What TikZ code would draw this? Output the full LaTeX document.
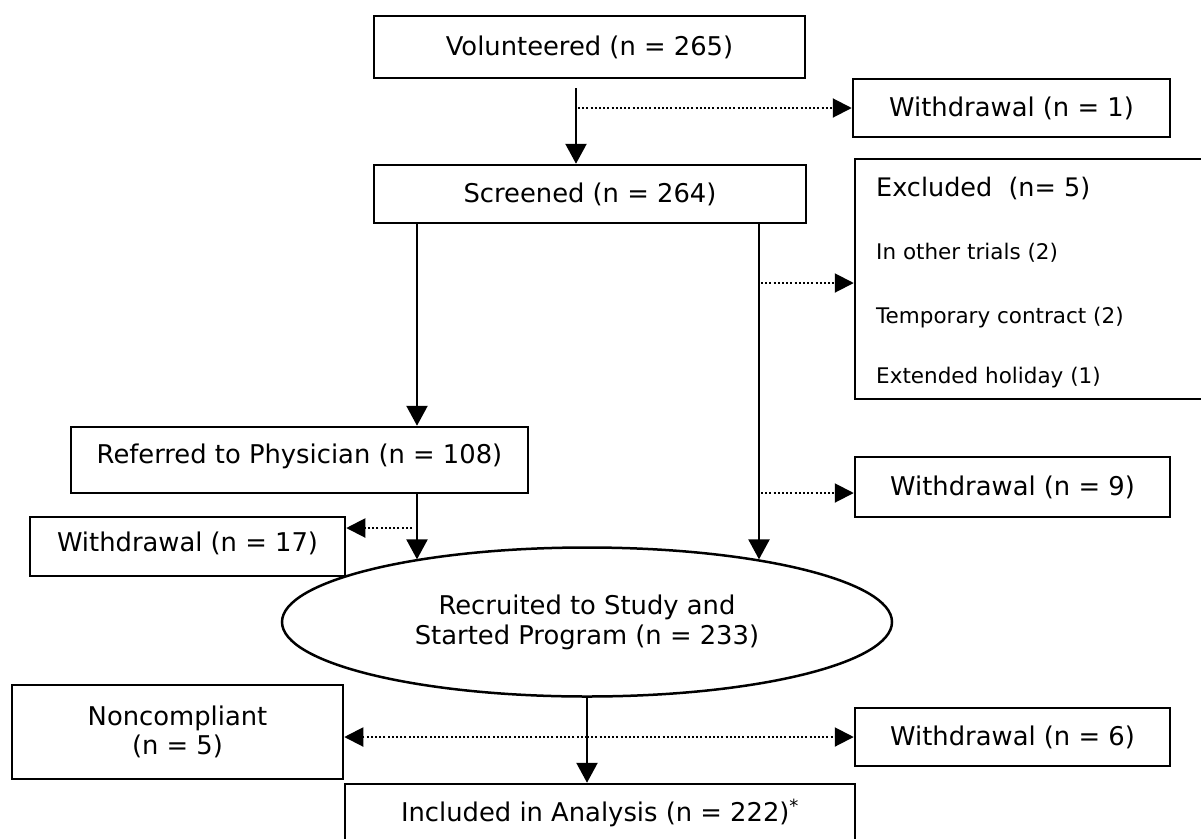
\documentclass[tikz,border=0pt]{standalone}
\usepackage{fontspec}
\setmainfont{DejaVu Sans}
\usetikzlibrary{arrows.meta,shapes.geometric,calc}
\tikzset{
  boxnode/.style={draw, line width=2.5pt, rectangle, inner sep=0pt, align=center,
    font=\fontsize{25.8}{29}\selectfont},
  arr/.style={line width=2.4pt, -{Triangle[length=20pt,width=21pt]}},
  dotarr/.style={line width=2pt, dash pattern=on 2pt off 2.2pt,
    -{Triangle[length=19pt,width=19pt]}},
  smalltext/.style={font=\fontsize{21.5}{25}\selectfont, anchor=base west, inner sep=0pt},
}
\begin{document}
\begin{tikzpicture}[x=1pt,y=-1pt]
\useasboundingbox (0,0) rectangle (1201,838);
\fill[white] (0,0) rectangle (1201,838);
\clip (0,0) rectangle (1201,838);

% boxes
\node[boxnode, minimum width=431pt, minimum height=62pt] (vol) at (589.5,47) {Volunteered (n = 265)};
\node[boxnode, minimum width=317pt, minimum height=58pt] (w1) at (1011.5,108) {Withdrawal (n = 1)};
\node[boxnode, minimum width=432pt, minimum height=58pt] (scr) at (590,194) {Screened (n = 264)};
\node[boxnode, minimum width=360pt, minimum height=240pt] (excl) at (1035,279) {};
\node[smalltext, font=\fontsize{25.5}{30}\selectfont] (exT) at (876,196) {Excluded\ \ (n= 5)};
\node[smalltext] (ex1) at (876,259) {In other trials (2)};
\node[smalltext] (ex2) at (876,323) {Temporary contract (2)};
\node[smalltext] (ex3) at (876,383) {Extended holiday (1)};
\node[boxnode, minimum width=457pt, minimum height=66pt, text height=20pt, text depth=14pt] (ref) at (299.5,460) {Referred to Physician (n = 108)};
\node[boxnode, minimum width=315pt, minimum height=60pt] (w9) at (1012.5,487) {Withdrawal (n = 9)};
\node[boxnode, minimum width=315pt, minimum height=59pt, text height=20pt, text depth=11pt] (w17) at (187.5,546.5) {Withdrawal (n = 17)};
\node[draw, ellipse, line width=2.5pt, minimum width=610pt, minimum height=149pt, inner sep=0pt,
  align=center, font=\fontsize{25.8}{30}\selectfont] (ell) at (587,622) {Recruited to Study and\\Started Program (n = 233)};
\node[boxnode, minimum width=331pt, minimum height=94pt] (nc) at (177.5,732) {Noncompliant\\(n = 5)};
\node[boxnode, minimum width=315pt, minimum height=58pt] (w6) at (1012.5,737) {Withdrawal (n = 6)};
\node[boxnode, minimum width=510pt, minimum height=58pt] (inc) at (600,813) {Included in Analysis (n = 222)\textsuperscript{*}};

% helper coordinates
\coordinate (a1) at ([xshift=-13.5pt,yshift=-9pt]vol.south);
\coordinate (b1) at ([xshift=117.5pt]ref.north);
\coordinate (c1) at ([xshift=169pt]scr.south);
\coordinate (exin) at ([yshift=-4pt]excl.west);
\coordinate (w9in) at ([yshift=-6pt]w9.west);
\coordinate (w17in) at ([yshift=18.5pt]w17.east);
\coordinate (d1) at (ell.south |- w6.west);
\coordinate (ncin) at ([yshift=-5pt]nc.east);

% connectors
\draw[arr] (a1) -- (a1 |- scr.north);
\draw[dotarr] ([xshift=2pt]a1 |- w1.west) -- (w1.west);
\draw[arr] (b1 |- scr.south) -- (b1);
\draw[arr] (c1) -- (c1 |- ell.20);
\draw[dotarr] ([xshift=2pt]c1 |- exin) -- (exin);
\draw[dotarr] ([xshift=2pt]c1 |- w9in) -- (w9in);
\draw[arr] (ref.south -| b1) -- (b1 |- ell.160);
\draw[dotarr] ([xshift=-5pt]b1 |- w17in) -- (w17in);
\draw[arr] (ell.south) -- (ell.south |- inc.north);
\draw[dotarr] (d1) -- (ncin);
\draw[dotarr] (d1) -- (w6.west);
\end{tikzpicture}
\end{document}
